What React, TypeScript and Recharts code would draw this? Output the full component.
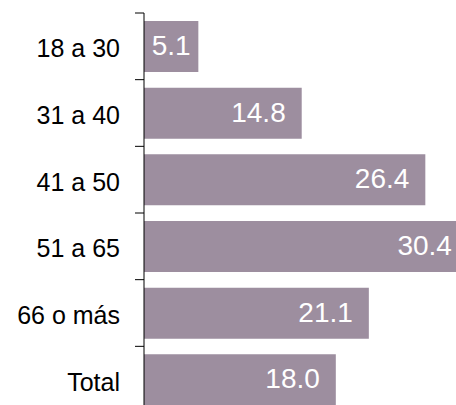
import { Bar, BarChart, LabelList, XAxis, YAxis } from 'recharts';

const ageGroups = ['18 a 30', '31 a 40', '41 a 50', '51 a 65', '66 o más', 'Total'];
const shares = [5.1, 14.8, 26.4, 30.4, 21.1, 18.0];

const data = ageGroups.map((group, i) => ({ group, value: shares[i] }));

const CHART_W = 485;
const CHART_H = 413;
const TOP = 13;
const BAND = (CHART_H - TOP) / ageGroups.length;
const FONT = "'Liberation Sans', Arial, sans-serif";

function GroupTick(props: any) {
  const { x, y, payload } = props;
  const yTop = y - BAND / 2;
  // x here sits 8px left of the axis line
  return (
    <g>
      <line x1={x - 1} x2={x + 8} y1={yTop} y2={yTop} stroke="#000" strokeWidth={1} />
      <text
        x={x - 16}
        y={y + 2}
        textAnchor="end"
        dominantBaseline="central"
        fill="#000"
        fontSize={25}
        fontFamily={FONT}
      >
        {payload.value}
      </text>
    </g>
  );
}

// right-aligned inside the bar, centred when the bar is too short
function ValueLabel(props: any) {
  const { x, y, width, height, value } = props;
  const short = width < 80;
  return (
    <text
      x={short ? x + width / 2 : x + width - 16}
      y={y + height / 2 - 1}
      textAnchor={short ? 'middle' : 'end'}
      dominantBaseline="central"
      fill="#fff"
      fontSize={28}
      fontFamily={FONT}
    >
      {Number(value).toFixed(1)}
    </text>
  );
}

export default function App() {
  return (
    <div style={{ position: 'fixed', left: 0, top: 0, width: 456, height: 405, overflow: 'hidden', background: '#fff' }}>
      <BarChart
        width={CHART_W}
        height={CHART_H}
        data={data}
        layout="vertical"
        margin={{ top: TOP, right: 0, bottom: 0, left: 0 }}
        barCategoryGap="12%"
      >
        <XAxis type="number" domain={[0, 32]} hide />
        <YAxis
          type="category"
          dataKey="group"
          width={144}
          axisLine={{ stroke: '#000', strokeWidth: 1 }}
          tickLine={false}
          tick={<GroupTick />}
          interval={0}
        />
        <Bar dataKey="value" fill="#9d8e9f" isAnimationActive={false}>
          <LabelList dataKey="value" content={<ValueLabel />} />
        </Bar>
      </BarChart>
    </div>
  );
}
